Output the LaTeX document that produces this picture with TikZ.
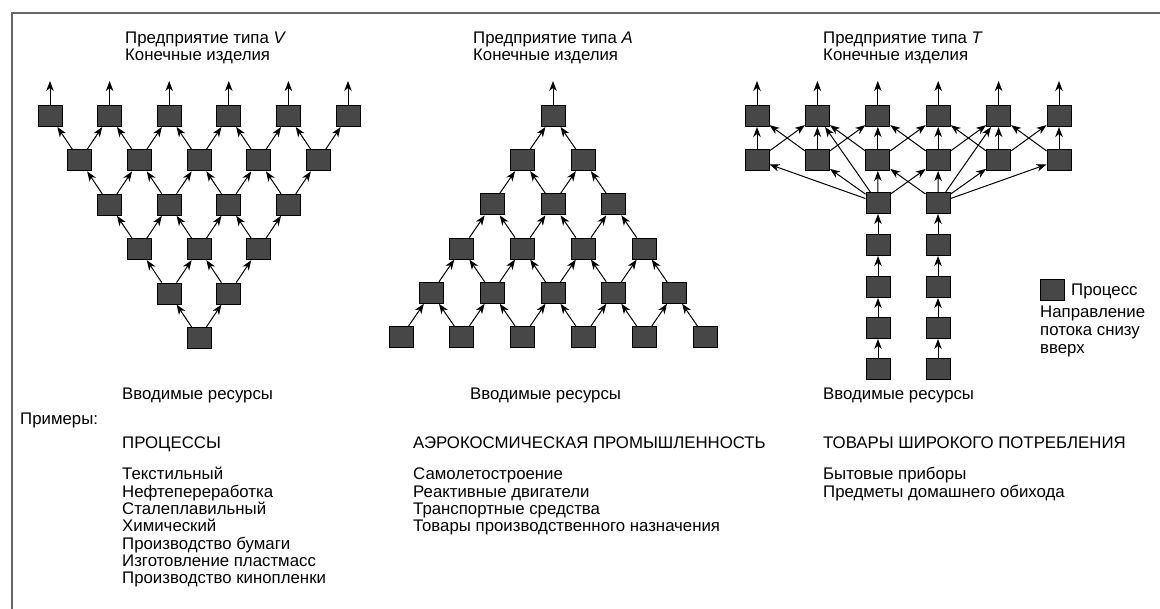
\documentclass[tikz,border=0pt]{standalone}
\usepackage{fontspec}
\setmainfont{Liberation Sans}
\usetikzlibrary{arrows.meta}
\begin{document}
\begin{tikzpicture}[x=1pt,y=-1pt,
  proc/.style={draw=black, fill=black!72, line width=1pt, minimum width=24pt, minimum height=21pt, inner sep=0pt},
  flow/.style={-{Stealth[length=10pt,width=7.5pt,inset=3pt]}, line width=1pt},
  lbl/.style={anchor=base west, inner sep=0pt, font=\fontsize{16.8}{18}\selectfont},
  frame/.style={line width=1.2pt, black!60},
]
\useasboundingbox (0,0) rectangle (1160,609);
\draw[frame] (12,609) -- (12,13) -- (1160,13);

% ---------- V plant ----------
\foreach \r in {0,...,5}{
  \pgfmathtruncatemacro\n{5-\r}
  \foreach \j in {0,...,\n}{
    \node[proc] (v\r-\j) at ({199+59.6*(\j-\n/2)}, {116+44.4*\r}) {};
  }
}
\foreach \r in {1,...,5}{
  \pgfmathtruncatemacro\n{5-\r}
  \pgfmathtruncatemacro\p{\r-1}
  \foreach \j in {0,...,\n}{
    \pgfmathtruncatemacro\k{\j+1}
    \draw[flow] (v\r-\j) -- (v\p-\j);
    \draw[flow] (v\r-\j) -- (v\p-\k);
  }
}
\foreach \j in {0,...,5}{
  \path (v0-\j.north) ++(0,-24) coordinate (vo\j);
  \draw[flow] (v0-\j) -- (vo\j);
}

% ---------- A plant ----------
\foreach \r in {0,...,5}{
  \foreach \j in {0,...,\r}{
    \node[proc] (a\r-\j) at ({553+60.8*(\j-\r/2)}, {116+44.2*\r}) {};
  }
}
\foreach \r in {1,...,5}{
  \pgfmathtruncatemacro\p{\r-1}
  \foreach \j in {0,...,\r}{
    \pgfmathtruncatemacro\k{\j-1}
    \ifnum\j<\r \draw[flow] (a\r-\j) -- (a\p-\j); \fi
    \ifnum\j>0 \draw[flow] (a\r-\j) -- (a\p-\k); \fi
  }
}
\path (a0-0.north) ++(0,-24) coordinate (ao);
\draw[flow] (a0-0) -- (ao);

% ---------- T plant ----------
\foreach \i in {1,...,6}{
  \node[proc] (t\i) at ({757+60.4*(\i-1)},116) {};
  \node[proc] (m\i) at ({757+60.4*(\i-1)},160) {};
  \path (t\i.north) ++(0,-24) coordinate (to\i);
  \draw[flow] (t\i) -- (to\i);
  \draw[flow] (m\i) -- (t\i);
}
\foreach \i in {1,...,5}{
  \pgfmathtruncatemacro\k{\i+1}
  \draw[flow] (m\i) -- (t\k);
  \draw[flow] (m\k) -- (t\i);
}
\node[proc] (b1) at (878,203) {};
\node[proc] (b2) at (938,203) {};
\foreach \y [count=\c] in {245,287,328,369}{
  \node[proc] (l\c) at (878,\y) {};
  \node[proc] (r\c) at (938,\y) {};
}
\foreach \d in {m1,m2,m3,m4,t2}{ \draw[flow] (b1) -- (\d); }
\foreach \d in {m3,m4,m5,m6,t5}{ \draw[flow] (b2) -- (\d); }
\draw[flow] (l1) -- (b1);
\draw[flow] (r1) -- (b2);
\foreach \c [count=\p] in {2,3,4}{
  \draw[flow] (l\c) -- (l\p);
  \draw[flow] (r\c) -- (r\p);
}

% ---------- legend ----------
\node[proc] (leg) at (1052,290) {};
\node[lbl] (legt) at (1071,296) {Процесс};
\node[lbl] (dir1) at (1040,318) {Направление};
\node[lbl] (dir2) at (1040,336) {потока снизу};
\node[lbl] (dir3) at (1040,354) {вверх};

% ---------- titles ----------
\node[lbl] (vt1) at (125,44) {Предприятие типа \textit{V}};
\node[lbl] (vt2) at (125,61) {Конечные изделия};
\node[lbl] (at1) at (473,44) {Предприятие типа \textit{A}};
\node[lbl] (at2) at (473,61) {Конечные изделия};
\node[lbl] (tt1) at (823,44) {Предприятие типа \textit{T}};
\node[lbl] (tt2) at (823,61) {Конечные изделия};

\node[lbl] (vin) at (122,400) {Вводимые ресурсы};
\node[lbl] (ain) at (470,400) {Вводимые ресурсы};
\node[lbl] (tin) at (823,400) {Вводимые ресурсы};

\node[lbl] (ex) at (20,425) {Примеры:};
\node[lbl] (h1) at (122,449) {ПРОЦЕССЫ};
\node[lbl] (h2) at (413,449) {АЭРОКОСМИЧЕСКАЯ ПРОМЫШЛЕННОСТЬ};
\node[lbl] (h3) at (823,449) {ТОВАРЫ ШИРОКОГО ПОТРЕБЛЕНИЯ};

\foreach \t [count=\c from 0] in {Текстильный,Нефтепереработка,Сталеплавильный,Химический,Производство бумаги,Изготовление пластмасс,Производство кинопленки}{
  \node[lbl] (p\c) at (122,{480+17.3*\c}) {\t};
}
\foreach \t [count=\c from 0] in {Самолетостроение,Реактивные двигатели,Транспортные средства,Товары производственного назначения}{
  \node[lbl] (q\c) at (413,{480+17.3*\c}) {\t};
}
\foreach \t [count=\c from 0] in {Бытовые приборы,Предметы домашнего обихода}{
  \node[lbl] (s\c) at (823,{480+17.3*\c}) {\t};
}
\end{tikzpicture}
\end{document}
